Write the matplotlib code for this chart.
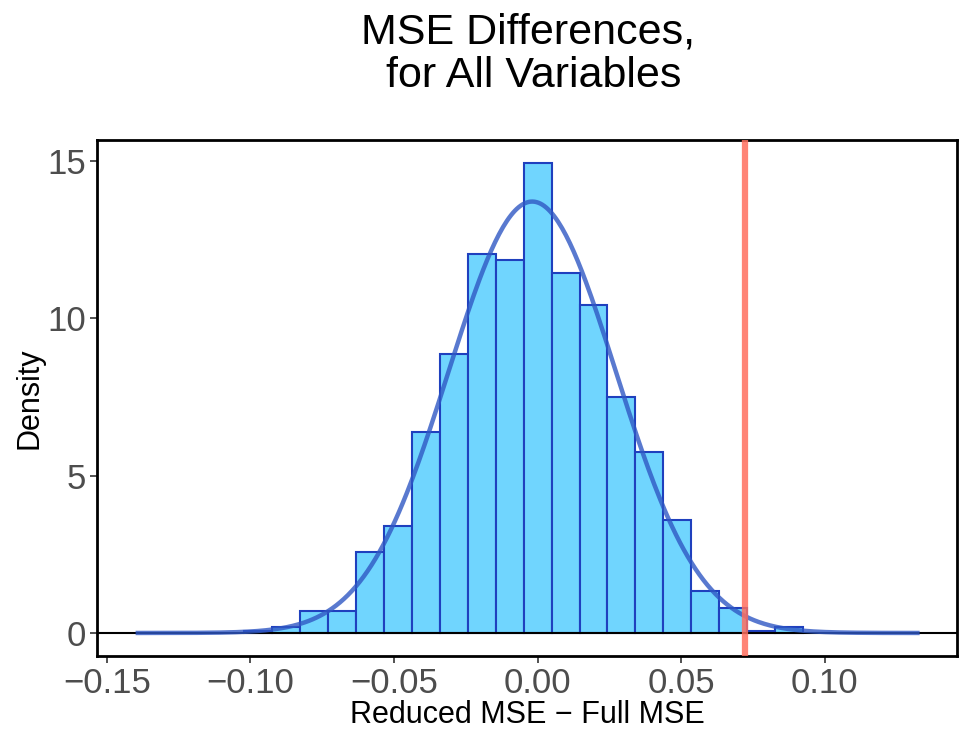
import numpy as np
import matplotlib
matplotlib.use('Agg')
import matplotlib.pyplot as plt

plt.rcParams['font.family'] = ['Liberation Sans', 'DejaVu Sans']

# histogram bins (density scale)
bin_start = -0.1022
bin_width = 0.00973
bin_density = [0.07, 0.19, 0.70, 0.70, 2.56, 3.39, 6.38, 8.86, 12.05, 11.85,
               14.94, 11.43, 10.41, 7.51, 5.75, 3.58, 1.32, 0.80, 0.07, 0.18]

# fitted normal curve
curve_mean = -0.0019
curve_sd = 0.0291
curve_from = -0.140
curve_to = 0.133

# observed value (vertical line)
observed = 0.0722

x_ticks = [-0.15, -0.10, -0.05, 0.00, 0.05, 0.10]
x_tick_labels = ['\u22120.15', '\u22120.10', '\u22120.05', '0.00', '0.05', '0.10']
y_ticks = [0, 5, 10, 15]

fig = plt.figure(figsize=(9.69, 7.45), dpi=100)
ax = fig.add_axes([0.1001, 0.1195, 0.8875, 0.6926])

edges = bin_start + bin_width * np.arange(len(bin_density))
ax.bar(edges, bin_density, width=bin_width, align='edge',
       color='#70D5FE', edgecolor='#1F40BE', linewidth=1.5, zorder=2)

ax.axhline(0, color='black', linewidth=1.5, zorder=3)

xs = np.linspace(curve_from, curve_to, 400)
ys = np.exp(-0.5 * ((xs - curve_mean) / curve_sd) ** 2) / (curve_sd * np.sqrt(2 * np.pi))
ax.plot(xs, ys, color='#3058C4', linewidth=3.2, alpha=0.8, solid_capstyle='butt', zorder=4)

ax.axvline(observed, color='#FF6F5E', linewidth=4.5, alpha=0.85, zorder=5)

ax.set_xlim(-0.15345, 0.1460)
ax.set_ylim(-0.731, 15.666)
ax.set_xticks(x_ticks)
ax.set_xticklabels(x_tick_labels)
ax.set_yticks(y_ticks)

for s in ax.spines.values():
    s.set_linewidth(2.0)
    s.set_color('black')
ax.tick_params(axis='both', labelsize=25, labelcolor='#4D4D4D', color='#333333',
               length=5, width=1.2, pad=3)

ax.set_xlabel('Reduced MSE \u2212 Full MSE', fontsize=22, labelpad=0)
ax.set_ylabel('Density', fontsize=22, labelpad=2)
fig.suptitle('MSE Differences,\n for All Variables', fontsize=31, y=0.983, va='top',
             x=0.545, linespacing=1.12)

fig.savefig('out.png', dpi=100)
